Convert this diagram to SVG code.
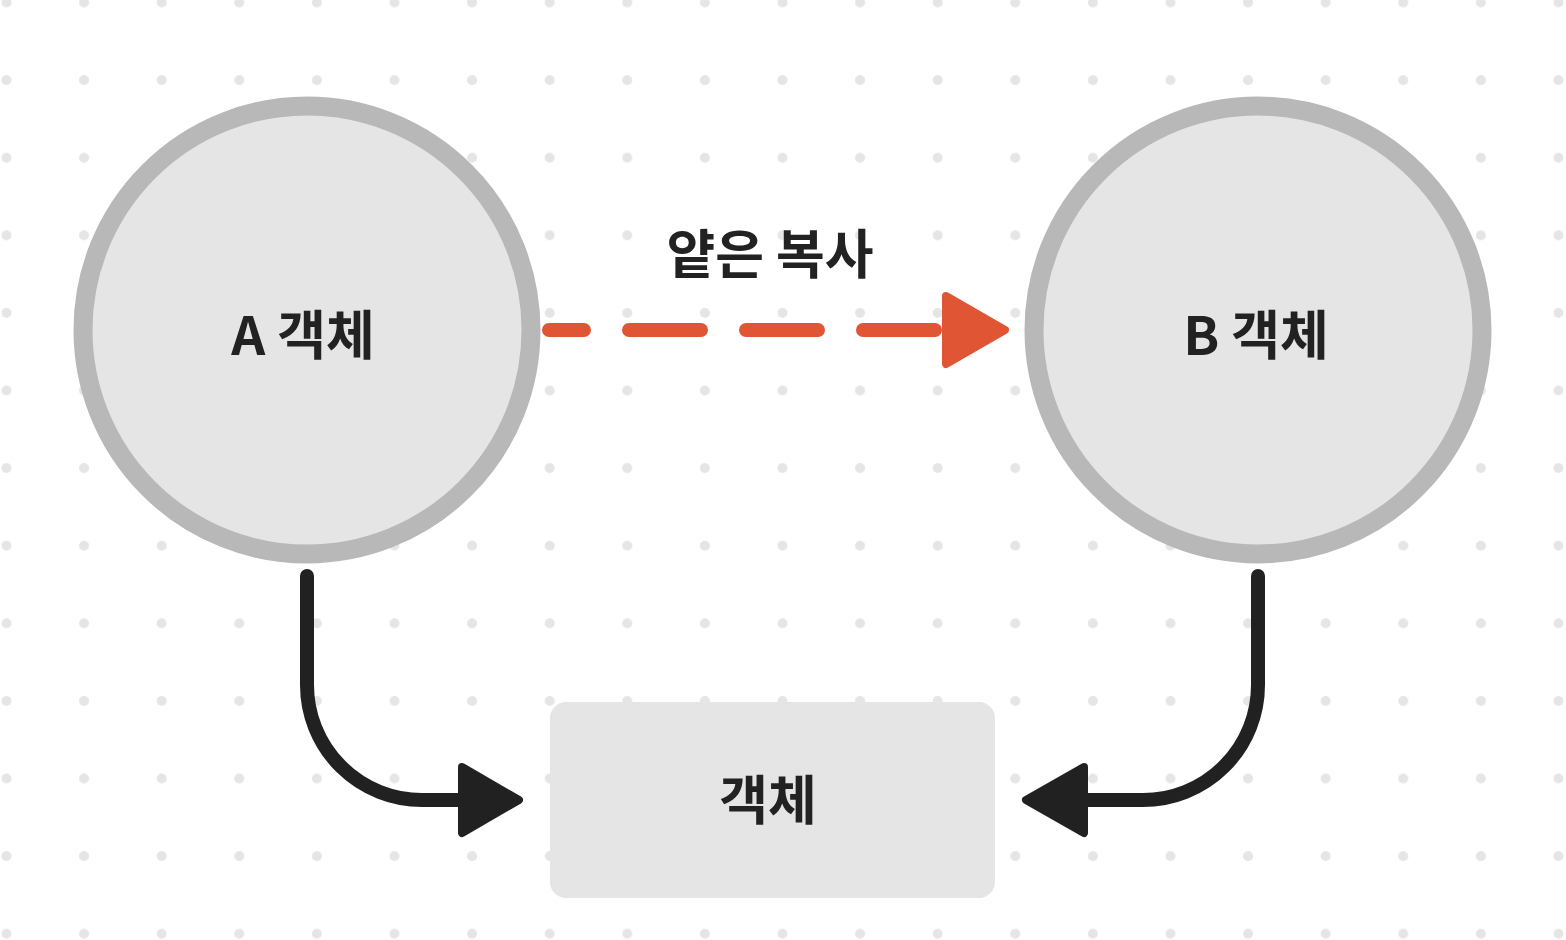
<svg xmlns="http://www.w3.org/2000/svg" width="1566" height="940" viewBox="0 0 1566 940">
<style>
.node{fill:#e5e5e5}
.ring{fill:#e5e5e5;stroke:#b8b8b8;stroke-width:19}
.lbl{font-family:"Noto Sans CJK KR","Noto Sans",sans-serif;font-weight:700;font-size:53px;fill:#222;text-anchor:middle}
.blk{fill:none;stroke:#212121;stroke-width:14;stroke-linecap:round}
.blkhead{fill:#212121;stroke:#212121;stroke-width:8;stroke-linejoin:round}
.red{fill:none;stroke:#e05634;stroke-width:14;stroke-linecap:round;stroke-dasharray:72 45}
.redhead{fill:#e05634;stroke:#e05634;stroke-width:8;stroke-linejoin:round}
</style>
<defs>
<pattern id="dots" patternUnits="userSpaceOnUse" x="-32.3" y="-36.3" width="77.6" height="77.6">
<circle cx="38.8" cy="38.8" r="5" fill="#e5e5e5"/>
</pattern>
</defs>
<rect width="1566" height="940" fill="#ffffff"/>
<rect width="1566" height="940" fill="url(#dots)"/>
<g id="connectors">
<path class="red" d="M935,330 L549,330"/>
<polygon class="redhead" points="946,296 1005,330 946,364"/>
<text class="lbl" x="770" y="274">얕은 복사</text>
<path class="blk" d="M307,576 L307,685 A115,115 0 0 0 422,800 L466,800"/>
<polygon class="blkhead" points="462,767 519,800 462,833"/>
<path class="blk" d="M1258,576 L1258,685 A115,115 0 0 1 1143,800 L1082,800"/>
<polygon class="blkhead" points="1084,767 1026,800 1084,833"/>
</g>
<g id="nodeA">
<circle class="ring" cx="307" cy="330" r="224"/>
<text class="lbl" x="303" y="355">A 객체</text>
</g>
<g id="nodeB">
<circle class="ring" cx="1258" cy="330" r="224"/>
<text class="lbl" x="1256" y="355">B 객체</text>
</g>
<g id="nodeObj">
<rect class="node" x="550" y="702" width="445" height="196" rx="16"/>
<text class="lbl" x="768" y="820">객체</text>
</g>
</svg>
